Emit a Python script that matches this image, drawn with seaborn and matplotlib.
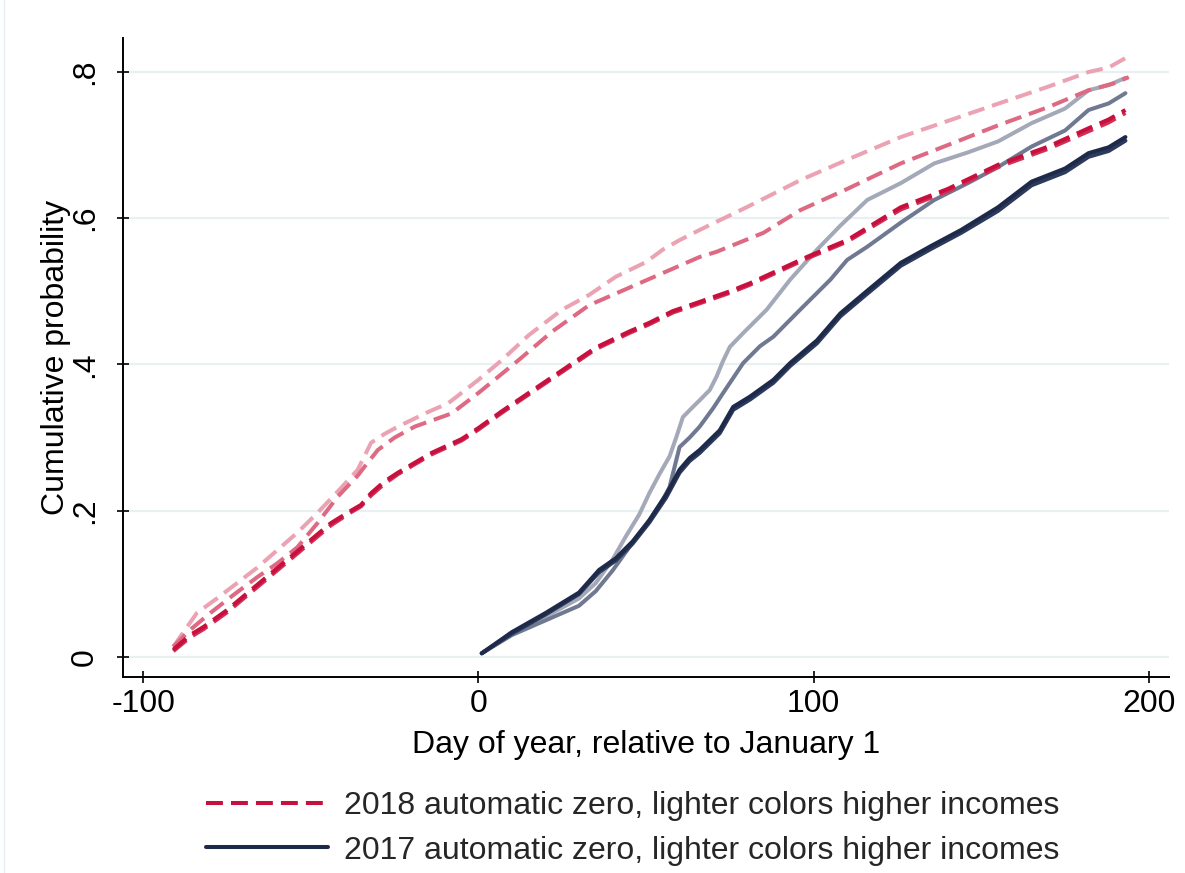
import numpy as np
import pandas as pd
import matplotlib
matplotlib.use("Agg")
import matplotlib.pyplot as plt
from matplotlib.lines import Line2D
import seaborn as sns

# ---------------- data ----------------
# 2018 automatic zero (dashed), darkest = lowest income
day_18_dark_a = [-91, -86, -82, -75, -69, -63, -57, -50, -44, -38, -35, -32, -28, -24, -14, -5, 0,
                 7, 15, 25, 35, 45, 51, 58, 65, 75, 81, 90, 98, 110, 126, 140, 155, 170, 182, 188, 193]
prob_18_dark_a = [0.010, 0.030, 0.041, 0.064, 0.087, 0.110, 0.133, 0.160, 0.183, 0.200, 0.208, 0.224,
                  0.240, 0.252, 0.279, 0.298, 0.313, 0.336, 0.361, 0.392, 0.423, 0.445, 0.457, 0.473,
                  0.484, 0.500, 0.511, 0.530, 0.547, 0.570, 0.615, 0.640, 0.673, 0.698, 0.723, 0.735, 0.748]

day_18_dark_b = [-91, -86, -82, -75, -69, -63, -57, -50, -44, -38, -35, -32, -28, -24, -14, -5, 0,
                 7, 15, 25, 35, 45, 51, 58, 65, 75, 81, 90, 98, 110, 126, 140, 155, 170, 182, 188, 193]
prob_18_dark_b = [0.008, 0.027, 0.038, 0.061, 0.084, 0.107, 0.130, 0.157, 0.180, 0.198, 0.206, 0.221,
                  0.237, 0.250, 0.277, 0.296, 0.311, 0.334, 0.359, 0.390, 0.421, 0.443, 0.455, 0.471,
                  0.482, 0.498, 0.509, 0.528, 0.545, 0.568, 0.612, 0.637, 0.670, 0.695, 0.719, 0.731, 0.744]

day_18_mid = [-91, -86, -80, -73, -66, -60, -54, -48, -42, -36, -34, -30, -25, -19, -8, 0, 12, 22,
              33, 45, 59, 66, 71, 85, 96, 110, 126, 140, 155, 170, 182, 190, 194]
prob_18_mid = [0.014, 0.037, 0.060, 0.085, 0.109, 0.128, 0.150, 0.183, 0.219, 0.248, 0.260, 0.283,
               0.300, 0.315, 0.333, 0.361, 0.406, 0.445, 0.481, 0.505, 0.533, 0.547, 0.554, 0.580,
               0.611, 0.640, 0.675, 0.700, 0.727, 0.752, 0.775, 0.785, 0.793]

day_18_light = [-91, -84, -78, -72, -66, -60, -54, -48, -42, -36, -32, -28, -24, -15, -9, 0, 7, 15,
                25, 33, 41, 50, 55, 60, 66, 80, 96, 110, 126, 140, 154, 170, 182, 188, 193]
prob_18_light = [0.014, 0.060, 0.080, 0.101, 0.122, 0.146, 0.170, 0.197, 0.226, 0.256, 0.293, 0.305,
                 0.315, 0.335, 0.347, 0.379, 0.406, 0.440, 0.475, 0.495, 0.520, 0.540, 0.557, 0.570,
                 0.584, 0.615, 0.652, 0.680, 0.711, 0.733, 0.755, 0.780, 0.800, 0.806, 0.819]

# 2017 automatic zero (solid)
day_17_dark_a = [1, 10, 20, 30, 36, 41, 46, 51, 56, 60, 63, 66, 72, 76, 81, 88, 93, 101, 108, 115,
                 126, 135, 144, 155, 165, 175, 182, 188, 193]
prob_17_dark_a = [0.005, 0.034, 0.060, 0.088, 0.119, 0.135, 0.158, 0.187, 0.222, 0.256, 0.272, 0.283,
                  0.310, 0.342, 0.356, 0.379, 0.402, 0.433, 0.470, 0.497, 0.539, 0.562, 0.584, 0.615,
                  0.650, 0.668, 0.689, 0.697, 0.711]

day_17_dark_b = [1, 10, 20, 30, 36, 41, 46, 51, 56, 60, 63, 66, 72, 76, 81, 88, 93, 101, 108, 115,
                 126, 135, 144, 155, 165, 175, 182, 188, 193]
prob_17_dark_b = [0.005, 0.032, 0.058, 0.086, 0.116, 0.132, 0.155, 0.184, 0.218, 0.252, 0.268, 0.279,
                  0.306, 0.338, 0.352, 0.375, 0.398, 0.429, 0.466, 0.493, 0.535, 0.558, 0.580, 0.610,
                  0.645, 0.663, 0.684, 0.692, 0.706]

day_17_mid = [1, 10, 20, 30, 35, 40, 45, 51, 55, 57, 60, 63, 66, 70, 73, 79, 84, 88, 96, 105, 110,
              116, 126, 136, 146, 155, 165, 175, 182, 188, 193]
prob_17_mid = [0.005, 0.030, 0.050, 0.070, 0.090, 0.118, 0.150, 0.187, 0.215, 0.232, 0.287, 0.300,
               0.315, 0.340, 0.361, 0.402, 0.425, 0.438, 0.475, 0.516, 0.543, 0.561, 0.594, 0.625,
               0.648, 0.670, 0.698, 0.720, 0.748, 0.757, 0.771]

day_17_light = [1, 10, 20, 30, 35, 40, 44, 48, 51, 54, 57, 59, 61, 64, 66, 69, 71, 73, 75, 79, 86,
                93, 101, 108, 116, 126, 136, 146, 155, 165, 175, 182, 188, 193]
prob_17_light = [0.005, 0.033, 0.055, 0.080, 0.101, 0.133, 0.165, 0.195, 0.224, 0.250, 0.274, 0.300,
                 0.328, 0.342, 0.351, 0.365, 0.383, 0.405, 0.424, 0.443, 0.475, 0.516, 0.557, 0.590,
                 0.625, 0.648, 0.675, 0.690, 0.705, 0.730, 0.750, 0.775, 0.782, 0.792]

x_ticks = [-100, 0, 100, 200]
y_ticks = [0, 0.2, 0.4, 0.6, 0.8]
y_tick_labels = ["0", ".2", ".4", ".6", ".8"]
legend_labels = ["2018 automatic zero, lighter colors higher incomes",
                 "2017 automatic zero, lighter colors higher incomes"]

series = [
    ("17 light", day_17_light, prob_17_light),
    ("17 mid", day_17_mid, prob_17_mid),
    ("17 dark b", day_17_dark_b, prob_17_dark_b),
    ("17 dark a", day_17_dark_a, prob_17_dark_a),
    ("18 light", day_18_light, prob_18_light),
    ("18 mid", day_18_mid, prob_18_mid),
    ("18 dark b", day_18_dark_b, prob_18_dark_b),
    ("18 dark a", day_18_dark_a, prob_18_dark_a),
]
df = pd.concat([pd.DataFrame({"series": n, "day": d, "prob": p}) for n, d, p in series],
               ignore_index=True)

palette = {
    "17 light": "#a3a9b8", "17 mid": "#6f7991", "17 dark b": "#2d3a5c", "17 dark a": "#1e2a4a",
    "18 light": "#eba3b3", "18 mid": "#de6982", "18 dark b": "#d12f55", "18 dark a": "#c8103e",
}
dash = (4.2, 2.0)
dashes = {n: (dash if n.startswith("18") else "") for n, _, _ in series}

FS = 23
LW = 2.9

# ---------------- plot ----------------
sns.set_theme(style="white")
plt.rcParams["font.family"] = ["Liberation Sans", "DejaVu Sans"]

fig = plt.figure(figsize=(11.85, 8.73), dpi=100)
ax = fig.add_axes([0.1038, 0.2245, 0.8827, 0.732])

sns.lineplot(data=df, x="day", y="prob", hue="series", style="series",
             hue_order=[s[0] for s in series], style_order=[s[0] for s in series],
             palette=palette, dashes=dashes, sort=False, estimator=None,
             lw=LW, legend=False, ax=ax)

ax.set_xlim(-106, 206)
ax.set_ylim(-0.0274, 0.8465)
ax.set_xticks(x_ticks)
ax.set_xticklabels([str(t) for t in x_ticks])
ax.set_yticks(y_ticks)
ax.set_yticklabels(y_tick_labels, rotation=90, va="center")

ax.yaxis.grid(True, color="#e8f0f2", lw=1.6)
ax.xaxis.grid(False)
ax.set_axisbelow(True)
for s in ["top", "right"]:
    ax.spines[s].set_visible(False)
for s in ["left", "bottom"]:
    ax.spines[s].set_color("black")
    ax.spines[s].set_linewidth(1.4)

ax.tick_params(axis="both", direction="inout", length=8.6, width=1.2, colors="black",
               labelsize=FS, left=True, bottom=True)
ax.tick_params(axis="y", pad=12.5)
ax.tick_params(axis="x", pad=4)

ax.set_xlabel("Day of year, relative to January 1", fontsize=FS, labelpad=8, color="black")
ax.set_ylabel("Cumulative probability", fontsize=FS, labelpad=-1, color="black")

handles = [Line2D([0], [0], color="#c8103e", lw=LW, ls=(0, dash)),
           Line2D([0], [0], color="#1e2a4a", lw=LW)]
fig.legend(handles, legend_labels, loc="center", bbox_to_anchor=(0.534, 0.051),
           frameon=False, fontsize=FS, handlelength=3.8, handletextpad=0.5,
           labelspacing=0.45, borderpad=0.0)

fig.add_artist(Line2D([4 / 1185, 4 / 1185], [0, 1], transform=fig.transFigure,
                      color="#e3eef1", lw=1))

fig.savefig("out.png", dpi=100)
